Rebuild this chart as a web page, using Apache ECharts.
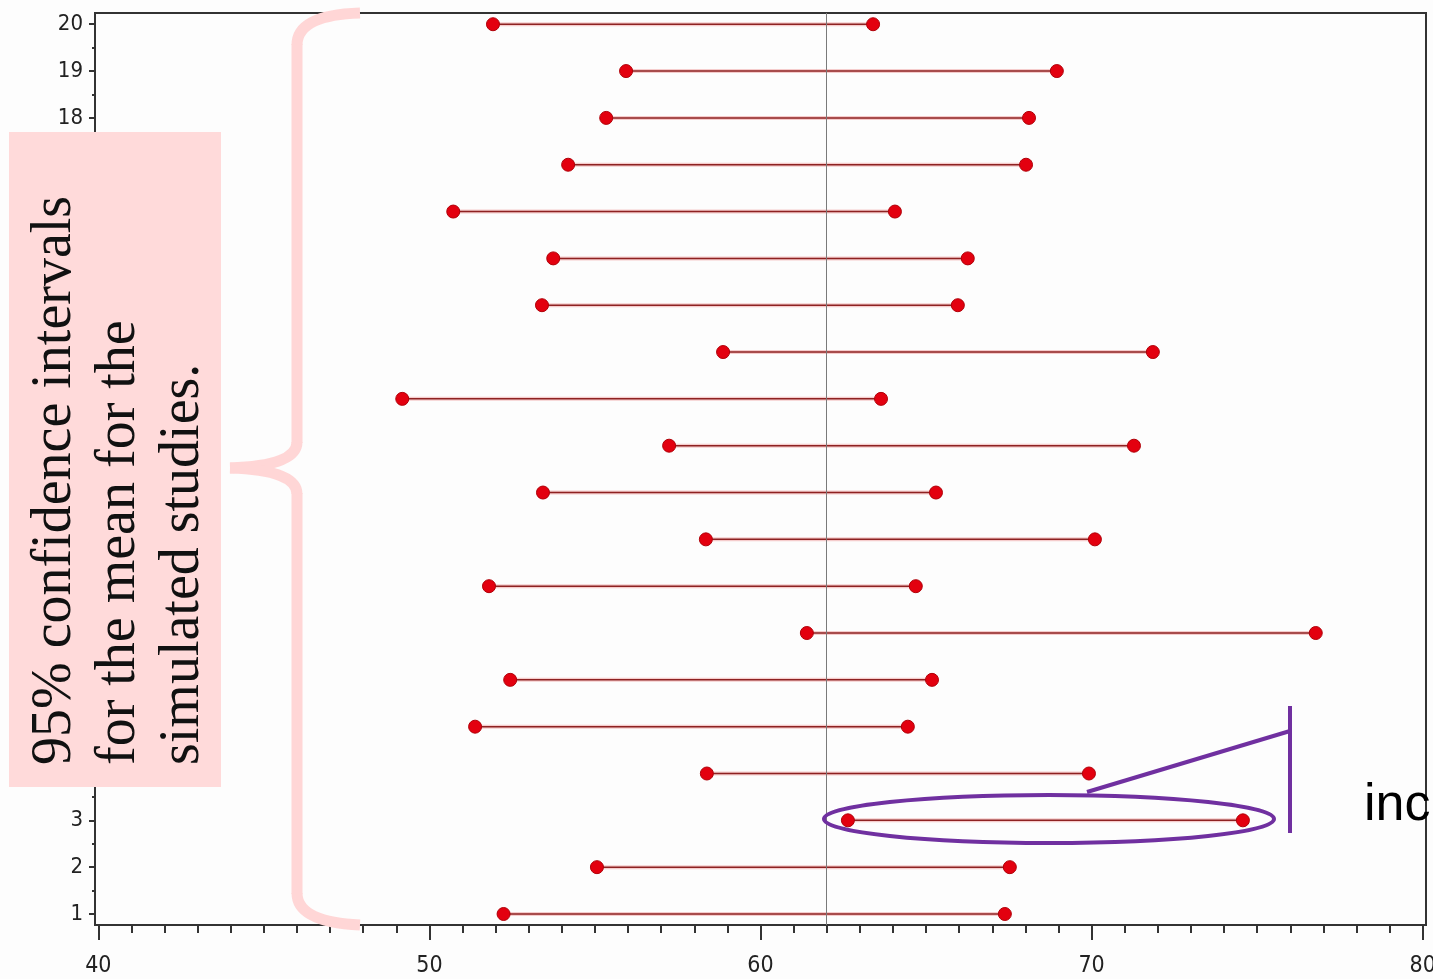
<!DOCTYPE html>
<html>
<head>
<meta charset="utf-8">
<script src="https://cdn.jsdelivr.net/npm/echarts@6/dist/echarts.min.js"></script>
<style>
html,body{margin:0;padding:0;background:#fdfdfd;}
#chart{width:1433px;height:979px;}
</style>
</head>
<body>
<div id="chart"></div>
<script>
// study index (y) and CI endpoints (x)
const studies = [1,2,3,4,5,6,7,8,9,10,11,12,13,14,15,16,17,18,19,20];
const lower = [52.24,55.06,62.64,58.38,51.38,52.44,61.40,51.80,58.35,53.43,57.24,49.18,58.87,53.40,53.74,50.72,54.19,55.34,55.94,51.92];
const upper = [67.38,67.53,74.57,69.92,64.45,65.18,76.77,64.69,70.10,65.30,71.28,63.64,71.85,65.96,66.26,64.06,68.02,68.11,68.95,63.40];
const trueMean = 62;
const xTickLabels = [40,50,60,70,80];
const yTickLabels = studies;
const noteText = ['95% confidence intervals','for the mean for the','simulated studies.'];
const sideText = 'inc';

const xMinorTicks = [];
for (let v = 40; v <= 80; v++) xMinorTicks.push(v);
const yMinorTicks = [];
for (let v = 1.5; v <= 20; v += 1) yMinorTicks.push(v);

const intervals = studies.map((s,i)=>[lower[i], upper[i], s]);
const endpoints = [];
studies.forEach((s,i)=>{ endpoints.push([lower[i], s]); endpoints.push([upper[i], s]); });

const axisFont = "'Liberation Sans Narrow','DejaVu Sans Condensed','Liberation Sans',sans-serif";
const axisLineStyle = {color:'#333', width:2};
const braceStyle = {fill:'none', stroke:'#ffd6d6', lineWidth:11};
const purple = {fill:'none', stroke:'#7030a0', lineWidth:4};

const chart = echarts.init(document.getElementById('chart'), null, {renderer:'canvas'});
chart.setOption({
  backgroundColor:'#fdfdfd',
  animation:false,
  grid:{left:95, right:7, top:13, bottom:54, show:true, borderColor:'#333', borderWidth:2, backgroundColor:'transparent',
        containLabel:false, outerBoundsMode:'none'},
  xAxis:[
    {type:'value', min:39.9, max:80.1, position:'bottom',
     axisLine:{show:true, lineStyle:axisLineStyle},
     axisTick:{show:true, customValues:xMinorTicks, length:8, lineStyle:axisLineStyle},
     axisLabel:{show:true, customValues:xTickLabels, margin:30, fontSize:23, color:'#222', fontFamily:axisFont},
     splitLine:{show:false}},
    {type:'value', min:39.9, max:80.1, position:'bottom',
     axisLine:{show:false},
     axisTick:{show:true, customValues:xTickLabels, length:15, lineStyle:axisLineStyle},
     axisLabel:{show:false}, splitLine:{show:false}}
  ],
  yAxis:[
    {type:'value', min:0.765, max:20.24, position:'left',
     axisLine:{show:true, lineStyle:axisLineStyle},
     axisTick:{show:true, customValues:yTickLabels, length:6, lineStyle:axisLineStyle},
     axisLabel:{show:true, customValues:yTickLabels, margin:12, fontSize:22, color:'#222', fontFamily:axisFont},
     splitLine:{show:false}},
    {type:'value', min:0.765, max:20.24, position:'left',
     axisLine:{show:false},
     axisTick:{show:true, customValues:yMinorTicks, length:3, lineStyle:axisLineStyle},
     axisLabel:{show:false}, splitLine:{show:false}}
  ],
  series:[
    {type:'custom', xAxisIndex:0, yAxisIndex:0, data:intervals, z:2,
     encode:{x:[0,1], y:2},
     renderItem:function(params, api){
       const p1 = api.coord([api.value(0), api.value(2)]);
       const p2 = api.coord([api.value(1), api.value(2)]);
       return {type:'group', children:[
         {type:'line', shape:{x1:p1[0],y1:p1[1],x2:p2[0],y2:p2[1]}, style:{stroke:'#f5cccc', lineWidth:4}},
         {type:'line', shape:{x1:p1[0],y1:p1[1],x2:p2[0],y2:p2[1]}, style:{stroke:'#8e2222', lineWidth:1.5}}
       ]};
     }},
    {type:'scatter', xAxisIndex:0, yAxisIndex:0, data:endpoints, symbol:'circle', symbolSize:13, z:3,
     itemStyle:{color:'#e3000f', borderColor:'#b00008', borderWidth:1, opacity:1},
     markLine:{silent:true, symbol:'none', label:{show:false},
       lineStyle:{color:'#7a7a7a', width:1, type:'solid'},
       data:[{xAxis:trueMean}]}}
  ],
  graphic:[
    {type:'rect', z:100, shape:{x:9, y:132, width:212, height:655}, style:{fill:'#ffdada'}},
    {type:'text', z:101, x:23, y:765, rotation:Math.PI/2,
     style:{text:noteText.join('\n'), font:"56px 'Liberation Serif', serif", fill:'#111', align:'left', verticalAlign:'top', lineHeight:64}},
    {type:'bezierCurve', z:100, shape:{x1:360, y1:13, cpx1:297, cpy1:15, x2:297, y2:45}, style:braceStyle},
    {type:'line', z:100, shape:{x1:297, y1:44, x2:297, y2:443}, style:braceStyle},
    {type:'bezierCurve', z:100, shape:{x1:297, y1:442, cpx1:297, cpy1:466, x2:230, y2:468}, style:braceStyle},
    {type:'bezierCurve', z:100, shape:{x1:230, y1:468, cpx1:297, cpy1:470, x2:297, y2:494}, style:braceStyle},
    {type:'line', z:100, shape:{x1:297, y1:493, x2:297, y2:894}, style:braceStyle},
    {type:'bezierCurve', z:100, shape:{x1:297, y1:893, cpx1:297, cpy1:922, x2:360, y2:925}, style:braceStyle},
    {type:'ellipse', z:102, shape:{cx:1049, cy:819, rx:225, ry:24}, style:purple},
    {type:'line', z:102, shape:{x1:1087, y1:792, x2:1290, y2:731}, style:purple},
    {type:'line', z:102, shape:{x1:1290, y1:706, x2:1290, y2:833}, style:purple},
    {type:'text', z:102, x:1364, y:780, style:{text:sideText, font:"52px 'Liberation Sans', Arial, sans-serif", fill:'#000', align:'left', verticalAlign:'top'}}
  ]
});
</script>
</body>
</html>
